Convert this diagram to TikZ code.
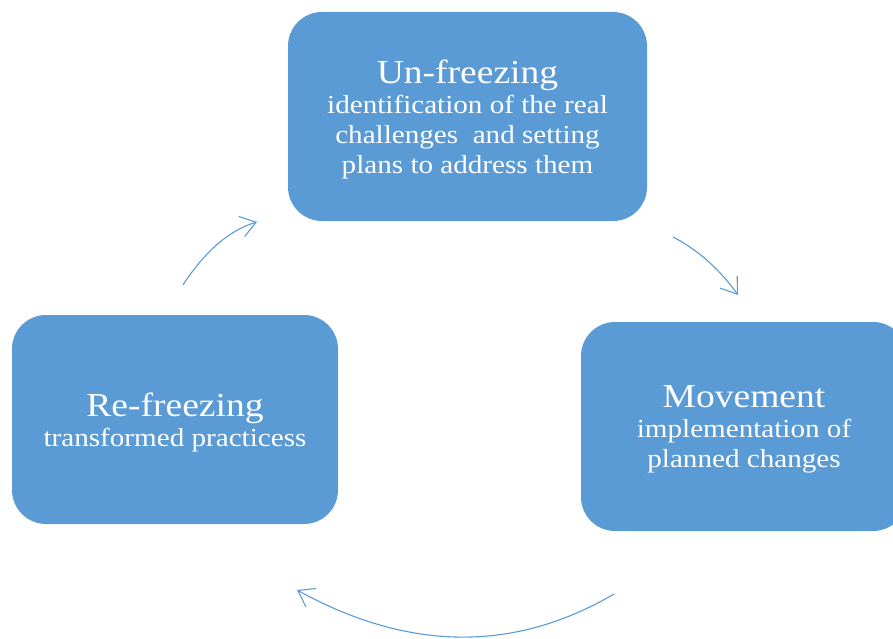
\documentclass[tikz,border=0pt]{standalone}
\usepackage{fontspec}
\setmainfont{Liberation Serif}[FakeStretch=1.12]
\usetikzlibrary{arrows.meta}
\definecolor{boxblue}{HTML}{5B9BD5}
\begin{document}
\begin{tikzpicture}[x=1pt,y=-1pt,
  stagebox/.style={fill=boxblue, rounded corners=34pt, inner sep=0pt,
    minimum height=209pt},
  stagetext/.style={text=white, align=center, inner sep=0pt,
    font=\fontsize{26}{30}\selectfont},
  cyclearrow/.style={draw=boxblue, line width=1.1pt,
    -{Straight Barb[length=15pt,width=21pt]}}]
  \path[use as bounding box, clip] (0,0) rectangle (893,639);

  % the three stage boxes
  \node[stagebox, minimum width=359pt] (unfreeze) at (467.5,116.5) {};
  \node[stagebox, minimum width=326pt] (move) at (744,426.5) {};
  \node[stagebox, minimum width=326pt] (refreeze) at (175,419.5) {};

  % their texts
  \node[stagetext] (unfreezetext) at ([yshift=-2.5pt]unfreeze.center)
    {{\fontsize{33.5}{30}\selectfont Un-freezing}\\
     identification of the real\\
     challenges\ \ and setting\\
     plans to address them};
  \node[stagetext] (movetext) at ([yshift=-2.5pt]move.center)
    {{\fontsize{33.5}{30}\selectfont Movement}\\
     implementation of\\
     planned changes};
  \node[stagetext] (refreezetext) at ([yshift=-2.5pt]refreeze.center)
    {{\fontsize{33.5}{30}\selectfont Re-freezing}\\
     transformed practicess};

  % arrow end points
  \coordinate (a1s) at (673,237);
  \coordinate (a1e) at (738,295);
  \coordinate (a2s) at (614,594);
  \coordinate (a2e) at (297,590);
  \coordinate (a3s) at (183,285);
  \coordinate (a3e) at (257,222);

  % cycle arrows
  \draw[cyclearrow] (a1s) .. controls (697.7,249.7) and (719.3,269) .. (a1e);
  \draw[cyclearrow] (a2s) .. controls (514,652.7) and (408.3,651.3) .. (a2e);
  \draw[cyclearrow] (a3s) .. controls (205,251) and (229.7,230) .. (a3e);
\end{tikzpicture}
\end{document}
